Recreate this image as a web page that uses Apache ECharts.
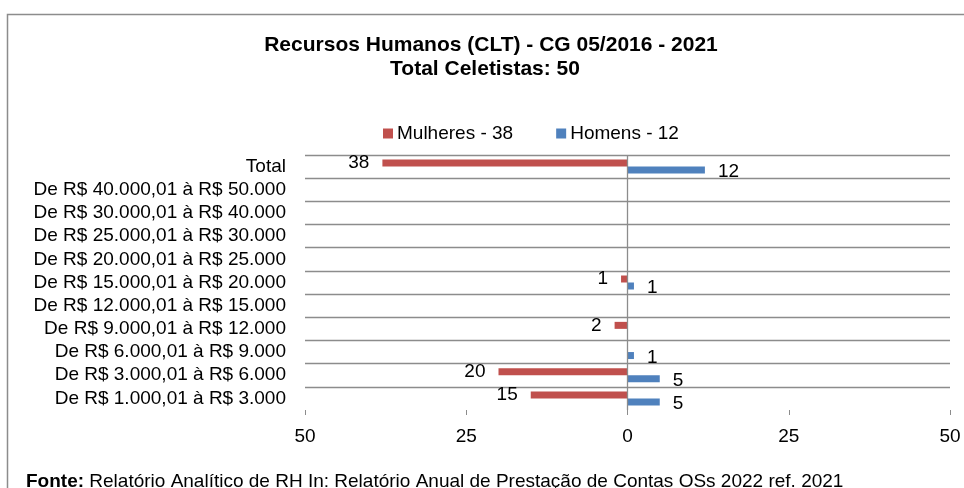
<!DOCTYPE html>
<html>
<head>
<meta charset="utf-8">
<script src="https://cdn.jsdelivr.net/npm/echarts@6/dist/echarts.min.js"></script>
<style>
  html, body { margin: 0; padding: 0; background: #fff; }
  #chart { width: 964px; height: 488px; }
</style>
</head>
<body>
<div id="chart"></div>
<script>
// faixas salariais, de cima para baixo
const categories = [
  'Total',
  'De R$ 40.000,01 à R$ 50.000',
  'De R$ 30.000,01 à R$ 40.000',
  'De R$ 25.000,01 à R$ 30.000',
  'De R$ 20.000,01 à R$ 25.000',
  'De R$ 15.000,01 à R$ 20.000',
  'De R$ 12.000,01 à R$ 15.000',
  'De R$ 9.000,01 à R$ 12.000',
  'De R$ 6.000,01 à R$ 9.000',
  'De R$ 3.000,01 à R$ 6.000',
  'De R$ 1.000,01 à R$ 3.000'
]
const mulheres = [38, null, null, null, null, 1, null, 2, null, 20, 15]
const homens = [12, null, null, null, null, 1, null, null, 1, 5, 5]
const seriesNames = ['Mulheres - 38', 'Homens - 12']
const titleLines = ['Recursos Humanos (CLT) - CG 05/2016 - 2021', 'Total Celetistas: 50']

const FONT = '"Liberation Sans", Arial, sans-serif'
const RED = '#C0504D'
const BLUE = '#4F81BD'
const GRID = '#8c8c8c'

const chart = echarts.init(document.getElementById('chart'))

// linhas de grade: a última (inferior) não aparece no original
const gridColors = categories.map(() => GRID).concat(['rgba(0,0,0,0)'])

chart.setOption({
  animation: false,
  textStyle: { fontFamily: FONT },
  graphic: [
    {
      type: 'rect',
      shape: { x: 7.5, y: 14.5, width: 1000, height: 600 },
      style: { fill: 'none', stroke: '#8c8c8c', lineWidth: 1.5 },
      silent: true
    },
    {
      type: 'text',
      x: 491, y: 45,
      style: { text: titleLines[0], font: 'bold 21px ' + FONT, fill: '#000', align: 'center', verticalAlign: 'middle' }
    },
    {
      type: 'text',
      x: 485, y: 69,
      style: { text: titleLines[1], font: 'bold 21px ' + FONT, fill: '#000', align: 'center', verticalAlign: 'middle' }
    },
    {
      type: 'text',
      x: 26, y: 482,
      style: {
        text: '{b|Fonte:} Relatório Analítico de RH In: Relatório Anual de Prestação de Contas OSs 2022 ref. 2021',
        font: '19px ' + FONT,
        fill: '#000',
        verticalAlign: 'middle',
        rich: { b: { fontWeight: 'bold', fontSize: 19, fontFamily: FONT } }
      }
    }
  ],
  legend: {
    data: seriesNames,
    left: 378,
    top: 119,
    icon: 'rect',
    itemWidth: 10,
    itemHeight: 10,
    itemGap: 43,
    textStyle: { fontSize: 19, color: '#000', fontFamily: FONT, padding: [0, 0, 0, -1] }
  },
  grid: { left: 305, right: 14, top: 155, bottom: 78, containLabel: false },
  xAxis: {
    type: 'value',
    min: -50,
    max: 50,
    interval: 25,
    axisLine: { show: false },
    axisTick: { show: true, length: 5, lineStyle: { color: GRID } },
    splitLine: { show: false },
    axisLabel: {
      fontSize: 19,
      color: '#000',
      margin: 17,
      formatter: (v) => Math.abs(v)
    }
  },
  yAxis: {
    type: 'category',
    inverse: true,
    data: categories,
    axisLine: { show: false },
    axisTick: { show: false },
    splitLine: { show: true, interval: 0, lineStyle: { color: gridColors, width: 1.3 } },
    axisLabel: { fontSize: 19, color: '#000', margin: 19, interval: 0 }
  },
  series: [
    {
      name: seriesNames[0],
      type: 'bar',
      data: mulheres.map((v) => (v == null ? null : -v)),
      barWidth: 7,
      barGap: '0%',
      itemStyle: { color: RED },
      label: {
        show: true,
        position: 'left',
        distance: 13,
        fontSize: 19,
        color: '#000',
        formatter: (p) => Math.abs(p.value)
      },
      markLine: {
        silent: true,
        symbol: 'none',
        label: { show: false },
        lineStyle: { color: GRID, type: 'solid', width: 1.3 },
        data: [{ xAxis: 0 }]
      }
    },
    {
      name: seriesNames[1],
      type: 'bar',
      data: homens,
      barWidth: 7,
      barGap: '0%',
      itemStyle: { color: BLUE },
      label: {
        show: true,
        position: 'right',
        distance: 13,
        fontSize: 19,
        color: '#000',
        offset: [0, 2],
        formatter: (p) => p.value
      }
    }
  ]
})
</script>
</body>
</html>
